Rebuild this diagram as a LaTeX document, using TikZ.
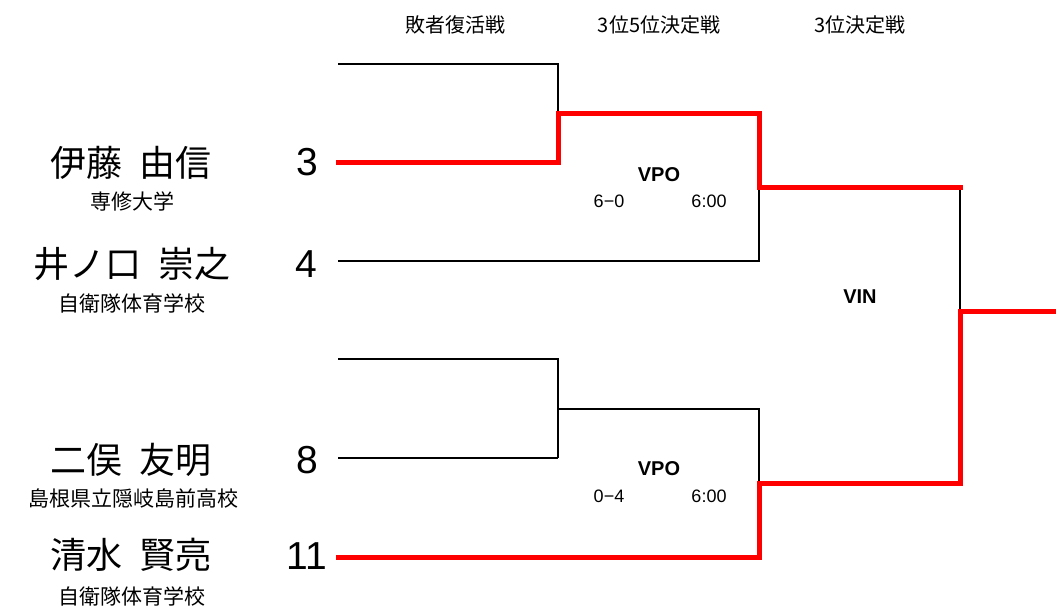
\documentclass[tikz,border=0pt]{standalone}
\usepackage{fontspec}
\setmainfont{Liberation Sans}
\newfontfamily\jp{Noto Sans CJK JP}[WordSpace=2.0]
\tikzset{
  pname/.style={inner sep=0pt, font=\jp\fontsize{36}{40}\selectfont},
  school/.style={inner sep=0pt, font=\jp\fontsize{21}{24}\selectfont},
  seed/.style={inner sep=0pt, font=\fontsize{39}{42}\selectfont},
  head/.style={inner sep=0pt, font=\jp\fontsize{20}{22}\selectfont},
  match/.style={inner sep=0pt, font=\bfseries\fontsize{20}{22}\selectfont},
  score/.style={inner sep=0pt, font=\fontsize{18}{20}\selectfont},
  lose/.style={draw=black, line width=1.5pt, line join=miter},
  win/.style={draw=red, line width=5pt, line join=miter, line cap=rect},
}
\begin{document}
\begin{tikzpicture}[x=1pt,y=-1pt]
\useasboundingbox (0,0) rectangle (1056,606);
% headers
\node[head] (h1) at (455,25) {敗者復活戦};
\node[head] (h2) at (659,25) {3位5位決定戦};
\node[head] (h3) at (860,25) {3位決定戦};
% players
\node[pname] (n1) at (131,163) {伊藤 由信};
\node[school] (s1) at (132,201) {専修大学};
\node[pname] (n2) at (132,264) {井ノ口 崇之};
\node[school] (s2) at (132,303) {自衛隊体育学校};
\node[pname] (n3) at (131,460) {二俣 友明};
\node[school] (s3) at (133,498) {島根県立隠岐島前高校};
\node[pname] (n4) at (131,555) {清水 賢亮};
\node[school] (s4) at (132,596) {自衛隊体育学校};
% seeds
\node[seed] (d1) at (307.5,162) {3};
\node[seed] (d2) at (306,264) {4};
\node[seed] (d3) at (307.5,460) {8};
\node[seed] (d4) at (307,556) {1\kern-3pt 1};
% match labels
\node[match] (m1) at (659,175) {VPO};
\node[score] (sc1) at (609,201) {6−0};
\node[score] (t1) at (709,201) {6:00};
\node[match] (m2) at (659,469) {VPO};
\node[score] (sc2) at (609,496) {0−4};
\node[score] (t2) at (709,496) {6:00};
\node[match] (m3) at (860,297) {VIN};
% bracket coordinates
\coordinate (a0) at (338,64);
\coordinate (a1) at (558,64);
\coordinate (a2) at (558,113);
\coordinate (p3) at (338,162);
\coordinate (p3c) at (558,162);
\coordinate (w1a) at (759,113);
\coordinate (w1b) at (759,187);
\coordinate (f1) at (960,187);
\coordinate (p4) at (338,261);
\coordinate (p4c) at (759,261);
\coordinate (b0) at (338,359);
\coordinate (b1) at (558,359);
\coordinate (b2) at (558,409);
\coordinate (p8) at (338,458);
\coordinate (p8c) at (558,458);
\coordinate (b3) at (759,409);
\coordinate (w2b) at (759,483);
\coordinate (f2) at (960,483);
\coordinate (fm) at (960,311);
\coordinate (out) at (1056,311);
\coordinate (p11) at (338,557);
\coordinate (p11c) at (759,557);
% losing lines
\draw[lose] (a0) -- (a1) -- (a2);
\draw[lose] (p4) -- (p4c) -- (w1b);
\draw[lose] (f1) -- (fm);
\draw[lose] (b0) -- (b1) -- (p8c);
\draw[lose] (p8) -- (p8c);
\draw[lose] (b2) -- (b3) -- (w2b);
% winning lines
\draw[win] (p3) -- (p3c) -- (a2) -- (w1a) -- (w1b) -- (f1);
\draw[win] (p11) -- (p11c) -- (w2b) -- (f2) -- (fm) -- (out);
\end{tikzpicture}
\end{document}
